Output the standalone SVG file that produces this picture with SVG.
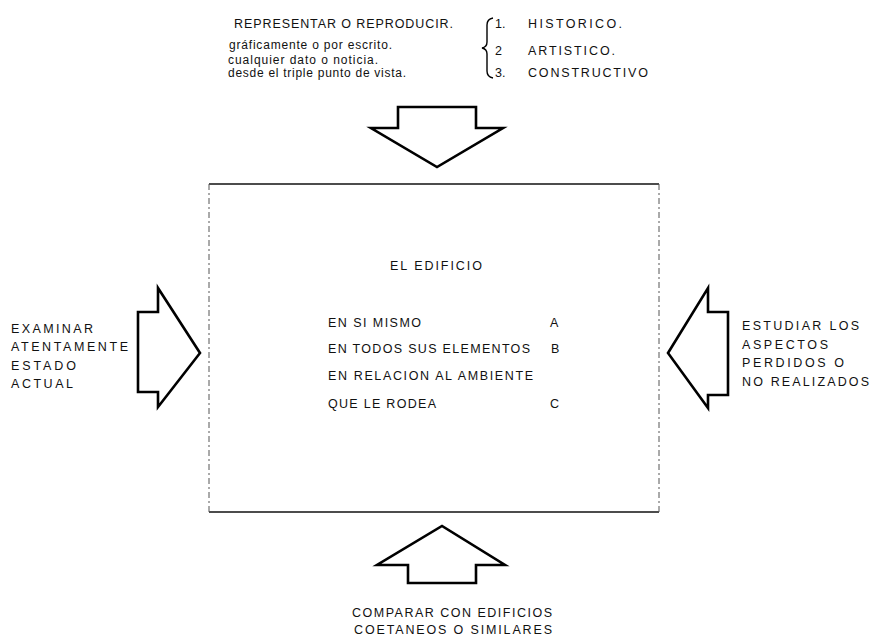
<svg xmlns="http://www.w3.org/2000/svg" width="873" height="641" viewBox="0 0 873 641">
<style>
text{font-family:"Liberation Sans",Arial,sans-serif;font-size:12.5px;fill:#111}
.lc{font-size:12px}
.arrow{fill:#fff;stroke:#000;stroke-width:2.6;stroke-linejoin:miter}
.edge{stroke:#111;stroke-width:1.6;fill:none}
.side{stroke:#555;stroke-width:1;fill:none;stroke-dasharray:6 3 2 3}
</style>
<rect width="873" height="641" fill="#fff"/>
<g id="top-note">
<text x="234" y="27.5" textLength="219" lengthAdjust="spacing">REPRESENTAR O REPRODUCIR.</text>
<text class="lc" x="229" y="48.5" textLength="163" lengthAdjust="spacing">gráficamente o por escrito.</text>
<text class="lc" x="228" y="63.5" textLength="150" lengthAdjust="spacing">cualquier dato o noticia.</text>
<text class="lc" x="228" y="77" textLength="178" lengthAdjust="spacing">desde el triple punto de vista.</text>
<path d="M493,18 Q487,19 487,25 L487,42 Q487,47 482,48 Q487,49 487,54 L487,71 Q487,77 493,78" fill="none" stroke="#000" stroke-width="1.4"/>
<text x="495" y="27.5">1.</text><text x="528" y="27.5" textLength="94" lengthAdjust="spacing">HISTORICO.</text>
<text x="495" y="54.5">2</text><text x="528" y="54.5" textLength="87" lengthAdjust="spacing">ARTISTICO.</text>
<text x="495" y="76.5">3.</text><text x="528" y="76.5" textLength="120" lengthAdjust="spacing">CONSTRUCTIVO</text>
</g>
<g id="building">
<line class="edge" x1="209" y1="184" x2="659" y2="184"/>
<line class="edge" x1="209" y1="512" x2="659" y2="512"/>
<line class="side" x1="209" y1="184" x2="209" y2="512"/>
<line class="side" x1="659" y1="184" x2="659" y2="512"/>
<text x="390" y="269.5" textLength="92" lengthAdjust="spacing">EL EDIFICIO</text>
<text x="328" y="326.5" textLength="93" lengthAdjust="spacing">EN SI MISMO</text><text x="550" y="326.5">A</text>
<text x="328" y="353" textLength="202" lengthAdjust="spacing">EN TODOS SUS ELEMENTOS</text><text x="551" y="353">B</text>
<text x="328" y="380" textLength="205" lengthAdjust="spacing">EN RELACION AL AMBIENTE</text>
<text x="328" y="408" textLength="108" lengthAdjust="spacing">QUE LE RODEA</text><text x="550" y="408">C</text>
</g>
<g id="connectors">
<polygon class="arrow" points="398,107 476,107 476,128 503,128 437,167 371,128 398,128"/>
<polygon class="arrow" points="138,312 158,312 158,288 200,353 158,407 158,392 138,392"/>
<polygon class="arrow" points="728,312 708,312 708,288 668,353 708,408 708,395 728,395"/>
<polygon class="arrow" points="408,583 476,583 476,565 505,565 442,526 377,565 408,565"/>
</g>
<g id="left-note">
<text x="11" y="332.5" textLength="82" lengthAdjust="spacing">EXAMINAR</text>
<text x="11" y="351" textLength="117" lengthAdjust="spacing">ATENTAMENTE</text>
<text x="11" y="369.5" textLength="65" lengthAdjust="spacing">ESTADO</text>
<text x="11" y="388" textLength="62" lengthAdjust="spacing">ACTUAL</text>
</g>
<g id="right-note">
<text x="742" y="330" textLength="117" lengthAdjust="spacing">ESTUDIAR LOS</text>
<text x="742" y="348.5" textLength="86" lengthAdjust="spacing">ASPECTOS</text>
<text x="742" y="367" textLength="102" lengthAdjust="spacing">PERDIDOS O</text>
<text x="742" y="385.5" textLength="127" lengthAdjust="spacing">NO REALIZADOS</text>
</g>
<g id="bottom-note">
<text x="352" y="617" textLength="200" lengthAdjust="spacing">COMPARAR CON EDIFICIOS</text>
<text x="354" y="634" textLength="198" lengthAdjust="spacing">COETANEOS O SIMILARES</text>
</g>
</svg>
